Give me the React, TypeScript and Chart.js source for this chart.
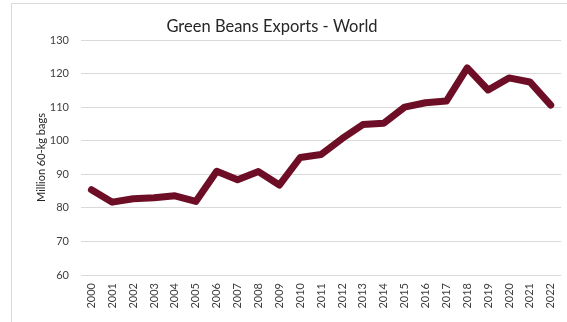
import React, { useEffect, useRef } from "react";
import { Chart, registerables } from "chart.js";

Chart.register(...registerables);

const TITLE = "Green Beans Exports - World";
const Y_TITLE = "Million 60-kg bags";
const YEARS = [
  "2000", "2001", "2002", "2003", "2004", "2005", "2006", "2007", "2008", "2009", "2010", "2011",
  "2012", "2013", "2014", "2015", "2016", "2017", "2018", "2019", "2020", "2021", "2022",
];
const EXPORTS = [
  85.4, 81.7, 82.7, 83.0, 83.6, 81.9, 90.9, 88.4, 90.8, 86.8, 95.0, 95.9,
  100.6, 104.8, 105.2, 110.0, 111.3, 111.8, 121.7, 115.1, 118.7, 117.5, 110.6,
];
const Y_MIN = 60;
const Y_MAX = 130;
const Y_STEP = 10;

const FONT = "Lato, 'Liberation Sans', sans-serif";

const titlePlugin = {
  id: "customTitle",
  afterDraw(chart: any) {
    const ctx = chart.ctx;
    ctx.save();
    ctx.font = `16.5px ${FONT}`;
    ctx.fillStyle = "#262626";
    ctx.textAlign = "center";
    ctx.textBaseline = "middle";
    ctx.fillText(TITLE, 272, 27);
    ctx.restore();
  },
};

export default function App() {
  const ref = useRef<HTMLCanvasElement>(null);
  useEffect(() => {
    document.body.style.margin = "0";
    const chart = new Chart(ref.current!, {
      type: "line",
      data: {
        labels: YEARS,
        datasets: [
          {
            data: EXPORTS,
            borderColor: "#6E0E26",
            borderWidth: 7,
            pointRadius: 0,
            tension: 0,
            borderJoinStyle: "round",
            borderCapStyle: "round",
            fill: false,
          },
        ],
      },
      options: {
        animation: false,
        responsive: false,
        layout: { padding: { top: 40, right: 3, left: 0, bottom: 0 } },
        plugins: { legend: { display: false }, tooltip: { enabled: false }, title: { display: false } },
        scales: {
          x: {
            offset: true,
            grid: { display: false, drawTicks: false },
            border: { display: false },
            ticks: {
              minRotation: 90,
              maxRotation: 90,
              autoSkip: false,
              padding: 8,
              color: "#404040",
              font: { family: FONT, size: 11 },
            },
            afterFit(scale: any) {
              scale.height = 47;
            },
          },
          y: {
            min: Y_MIN,
            max: Y_MAX,
            grid: { color: "#d9d9d9", lineWidth: 1, drawTicks: false },
            border: { display: false },
            ticks: {
              stepSize: Y_STEP,
              padding: 12,
              color: "#404040",
              font: { family: FONT, size: 11 },
            },
            title: {
              display: true,
              text: Y_TITLE,
              color: "#262626",
              font: { family: FONT, size: 11 },
              padding: { top: 35, bottom: 0 },
            },
            afterFit(scale: any) {
              scale.width = 81;
            },
          },
        },
      },
      plugins: [titlePlugin],
    });
    return () => chart.destroy();
  }, []);
  return (
    <div style={{ position: "relative", width: 567, height: 322, overflow: "hidden", background: "#fff" }}>
      <div
        style={{
          position: "absolute",
          left: 11,
          top: 3,
          width: 600,
          height: 400,
          border: "1px solid #d9d9d9",
          boxSizing: "border-box",
        }}
      />
      <canvas ref={ref} width={572} height={322} style={{ position: "absolute", left: 0, top: 0, width: 572, height: 322 }} />
    </div>
  );
}
